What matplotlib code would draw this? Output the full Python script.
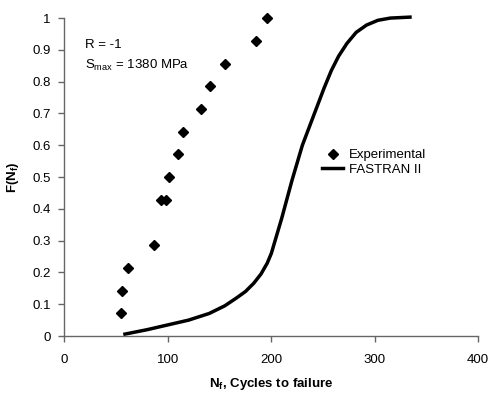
import matplotlib
matplotlib.use("Agg")
import matplotlib.pyplot as plt

plt.rcParams["font.family"] = ["Liberation Sans", "DejaVu Sans"]

# experimental failure data
exp_cycles = [55, 56, 61, 87, 93, 98, 101, 110, 115, 132, 141, 155, 185, 196]
exp_prob = [0.071, 0.143, 0.214, 0.286, 0.429, 0.429, 0.5, 0.571, 0.643,
            0.714, 0.786, 0.857, 0.929, 1.0]

# FASTRAN II prediction
fast_cycles = [58.5, 80, 100, 120, 140, 155, 166, 175, 183, 190, 196, 200,
               205, 210, 215, 220, 225, 230, 237, 244, 251, 258, 265, 273,
               282, 292, 303, 315, 334]
fast_prob = [0.006, 0.02, 0.035, 0.05, 0.071, 0.095, 0.119, 0.14, 0.166, 0.195,
             0.229, 0.26, 0.315, 0.37, 0.43, 0.49, 0.545, 0.6, 0.66, 0.72,
             0.78, 0.835, 0.88, 0.92, 0.955, 0.978, 0.993, 1.0, 1.003]

fig = plt.figure(figsize=(4.92, 3.93), dpi=100)
ax = fig.add_axes([0.131, 0.145, 0.841, 0.809])

ax.plot(exp_cycles, exp_prob, linestyle="none", marker="D", markersize=5,
        color="black", label="Experimental", clip_on=False)
ax.plot(fast_cycles, fast_prob, color="black", linewidth=2.5,
        label="FASTRAN II", clip_on=False)

ax.set_xlim(0, 400)
ax.set_ylim(0, 1)
ax.set_xticks([0, 100, 200, 300, 400])
ax.set_yticks([0, 0.1, 0.2, 0.3, 0.4, 0.5, 0.6, 0.7, 0.8, 0.9, 1])
ax.set_yticklabels(["0", "0.1", "0.2", "0.3", "0.4", "0.5", "0.6", "0.7",
                    "0.8", "0.9", "1"])

for side in ["top", "right"]:
    ax.spines[side].set_visible(False)
for side in ["left", "bottom"]:
    ax.spines[side].set_color("#666666")
    ax.spines[side].set_linewidth(1.0)
ax.tick_params(axis="both", direction="out", length=4, width=1,
               color="#666666", labelsize=9.5, pad=6)
ax.tick_params(axis="x", pad=9)

ax.set_xlabel("N$_\\mathregular{f}$, Cycles to failure", fontsize=9.5,
              fontweight="bold", labelpad=7)
ax.set_ylabel("F(N$_\\mathregular{f}$)", fontsize=9.5, fontweight="bold",
              labelpad=8)

ax.text(0.05, 0.915, "R = -1", transform=ax.transAxes, fontsize=9.5,
        va="center")
ax.text(0.05, 0.852, "S$_\\mathregular{max}$ = 1380 MPa",
        transform=ax.transAxes, fontsize=9.5, va="center")

ax.legend(loc="upper left", bbox_to_anchor=(0.61, 0.605), frameon=False,
          fontsize=9.5, handlelength=1.6, handletextpad=0.4,
          labelspacing=0.2, borderaxespad=0)

fig.savefig("out.png", dpi=100)
